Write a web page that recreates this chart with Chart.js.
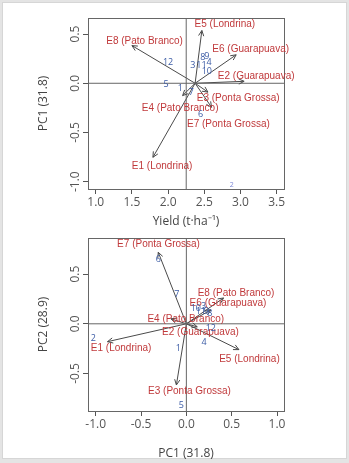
<!DOCTYPE html>
<html>
<head>
<meta charset="utf-8">
<script src="https://cdn.jsdelivr.net/npm/chart.js@4.4.1/dist/chart.umd.min.js"></script>
<style>
  html, body { margin: 0; padding: 0; background: #e4e4e4; width: 349px; height: 463px; overflow: hidden; }
  #frame { position: absolute; left: 2px; top: 2px; width: 345px; height: 457px; background: #fff; border: 1px solid #d6d6d6; box-sizing: border-box; }
  canvas { position: absolute; left: 0; }
  #top { top: 0; }
  #bottom { top: 230px; }
</style>
</head>
<body>
<div id="frame"></div>
<canvas id="top" width="349" height="230" style="width:349px;height:230px"></canvas>
<canvas id="bottom" width="349" height="233" style="width:349px;height:233px"></canvas>
<script>
const envNames = ["E1 (Londrina)", "E2 (Guarapuava)", "E3 (Ponta Grossa)", "E4 (Pato Branco)",
  "E5 (Londrina)", "E6 (Guarapuava)", "E7 (Ponta Grossa)", "E8 (Pato Branco)"]
const genotypes = ["1", "2", "3", "4", "5", "6", "7", "8", "9", "10", "11", "12"]

// top panel: yield vs PC1
const yieldMean = 2.25
const yieldOrigin = [2.373, 0]
const yieldEnvX = [1.79, 3.05, 2.55, 2.2, 2.466, 2.94, 2.6, 1.5]
const yieldEnvY = [-0.752, 0.02, -0.09, -0.125, 0.536, 0.289, -0.244, 0.383]
const yieldEnvLabelX = [1.917, 3.217, 2.968, 2.166, 2.784, 3.141, 2.833, 1.675]
const yieldEnvLabelY = [-0.839, 0.068, -0.152, -0.25, 0.597, 0.342, -0.413, 0.424]
const yieldGenX = [2.17, 2.88, 2.34, 2.565, 1.97, 2.45, 2.32, 2.48, 2.535, 2.535, 2.46, 2.0]
const yieldGenY = [-0.05, -1.03, 0.18, 0.21, -0.013, -0.318, -0.09, 0.264, 0.27, 0.125, 0.18, 0.213]
const yieldTicksX = [1.0, 1.5, 2.0, 2.5, 3.0, 3.5]
const yieldTicksY = [-1.0, -0.5, 0.0, 0.5]

// bottom panel: PC1 vs PC2
const pcOrigin = [0, 0]
const pcEnvX = [-0.87, 0.12, -0.11, -0.17, 0.58, 0.27, -0.31, 0.41]
const pcEnvY = [-0.18, -0.03, -0.616, 0.05, -0.26, 0.14, 0.72, 0.26]
const pcEnvLabelX = [-0.72, 0.155, 0.034, -0.007, 0.696, 0.459, -0.307, 0.548]
const pcEnvLabelY = [-0.245, -0.088, -0.684, 0.047, -0.354, 0.202, 0.798, 0.31]
const pcGenX = [-0.09, -1.026, 0.19, 0.195, -0.055, -0.31, -0.106, 0.26, 0.22, 0.104, 0.16, 0.27]
const pcGenY = [-0.245, -0.15, 0.17, -0.19, -0.818, 0.646, 0.3, 0.1, 0.12, 0.152, 0.12, -0.044]
const pcTicksX = [-1.0, -0.5, 0.0, 0.5, 1.0]
const pcTicksY = [-0.5, 0.0, 0.5]

Chart.defaults.font.family = "'Open Sans', sans-serif"

const ARROW = "#4a4a4a"
const RED = "#c0393b"
const BLUE = "#3b5ba5"
const fmt = (v) => (Math.abs(v) < 1e-9 ? 0 : v).toFixed(1)

const biplotPlugin = {
  id: "biplot",
  afterDatasetsDraw(chart, args, opts) {
    const { ctx, chartArea, scales } = chart
    ctx.save()
    ctx.strokeStyle = "#666"
    ctx.lineWidth = 1
    ctx.strokeRect(chartArea.left + 0.5, chartArea.top + 0.5, chartArea.width, chartArea.height)

    // arrow heads
    chart.data.datasets.forEach((ds, i) => {
      if (ds.kind !== "arrow") return
      const pts = chart.getDatasetMeta(i).data
      const a = pts[0], b = pts[1]
      const ang = Math.atan2(b.y - a.y, b.x - a.x)
      ctx.strokeStyle = ARROW
      ctx.beginPath()
      for (const s of [-1, 1]) {
        ctx.moveTo(b.x, b.y)
        ctx.lineTo(b.x - 6 * Math.cos(ang + s * 0.45), b.y - 6 * Math.sin(ang + s * 0.45))
      }
      ctx.stroke()
    })

    // environment labels
    ctx.textAlign = "center"
    ctx.textBaseline = "middle"
    ctx.font = "10px 'Liberation Sans', Arial, sans-serif"
    ctx.fillStyle = RED
    opts.labels.forEach((name, i) => {
      ctx.fillText(name, scales.x.getPixelForValue(opts.labelX[i]), scales.y.getPixelForValue(opts.labelY[i]))
    })

    // genotype numbers
    const gi = chart.data.datasets.findIndex((ds) => ds.kind === "genotype")
    chart.getDatasetMeta(gi).data.forEach((pt, i) => {
      const small = opts.smallIndex === i
      ctx.font = (small ? "7px" : "9px") + " 'Open Sans', sans-serif"
      ctx.fillStyle = small ? "#7a86d6" : BLUE
      ctx.fillText(genotypes[i], pt.x, pt.y)
    })
    ctx.restore()
  }
}

function makeBiplot(id, p) {
  const datasets = [
    { kind: "ref", data: [{ x: p.xMin, y: 0 }, { x: p.xMax, y: 0 }], showLine: true, borderColor: "#666", borderWidth: 1, pointRadius: 0 },
    { kind: "ref", data: [{ x: p.vLine, y: p.yMin }, { x: p.vLine, y: p.yMax }], showLine: true, borderColor: "#666", borderWidth: 1, pointRadius: 0 }
  ]
  p.envX.forEach((x, i) => {
    datasets.push({
      kind: "arrow",
      data: [{ x: p.origin[0], y: p.origin[1] }, { x: x, y: p.envY[i] }],
      showLine: true, borderColor: ARROW, borderWidth: 1, pointRadius: 0
    })
  })
  datasets.push({
    kind: "genotype",
    data: p.genX.map((x, i) => ({ x: x, y: p.genY[i] })),
    pointRadius: 0
  })

  const tickFont = { size: 12 }
  return new Chart(document.getElementById(id), {
    type: "scatter",
    data: { datasets },
    options: {
      responsive: false,
      animation: false,
      layout: { padding: { top: p.padTop, right: 65, left: 0, bottom: 0 } },
      plugins: {
        legend: { display: false },
        tooltip: { enabled: false },
        biplot: { labels: envNames, labelX: p.labelX, labelY: p.labelY, smallIndex: p.smallIndex }
      },
      scales: {
        x: {
          type: "linear",
          min: p.xMin, max: p.xMax,
          afterFit: (s) => { s.height = p.xAxisHeight },
          afterBuildTicks: (s) => { s.ticks = p.ticksX.map((v) => ({ value: v })) },
          border: { display: false },
          grid: { drawOnChartArea: false, tickLength: 5, color: "#555" },
          ticks: { color: "#555", font: tickFont, padding: 1, maxRotation: 0, callback: fmt },
          title: { display: true, text: p.xTitle, color: "#444", font: { size: 12 }, padding: { top: 0, bottom: p.xTitlePad } }
        },
        y: {
          type: "linear",
          min: p.yMin, max: p.yMax,
          afterFit: (s) => { s.width = 88 },
          afterBuildTicks: (s) => { s.ticks = p.ticksY.map((v) => ({ value: v })) },
          border: { display: false },
          grid: { drawOnChartArea: false, tickLength: 5, color: "#555" },
          ticks: { color: "#555", font: tickFont, padding: -3, minRotation: 90, maxRotation: 90, crossAlign: "center", callback: fmt },
          title: { display: true, text: p.yTitle, color: "#444", font: { size: 12 }, padding: { top: 36, bottom: 0 } }
        }
      }
    },
    plugins: [biplotPlugin]
  })
}

makeBiplot("top", {
  xMin: 0.893, xMax: 3.601, yMin: -1.074, yMax: 0.663,
  vLine: yieldMean, origin: yieldOrigin,
  envX: yieldEnvX, envY: yieldEnvY, labelX: yieldEnvLabelX, labelY: yieldEnvLabelY,
  genX: yieldGenX, genY: yieldGenY, smallIndex: 1,
  ticksX: yieldTicksX, ticksY: yieldTicksY,
  xTitle: "Yield (t·ha⁻¹)", yTitle: "PC1 (31.8)",
  padTop: 18, xAxisHeight: 41, xTitlePad: 1
})

makeBiplot("bottom", {
  xMin: -1.085, xMax: 1.077, yMin: -0.878, yMax: 0.864,
  vLine: 0, origin: pcOrigin,
  envX: pcEnvX, envY: pcEnvY, labelX: pcEnvLabelX, labelY: pcEnvLabelY,
  genX: pcGenX, genY: pcGenY, smallIndex: -1,
  ticksX: pcTicksX, ticksY: pcTicksY,
  xTitle: "PC1 (31.8)", yTitle: "PC2 (28.9)",
  padTop: 8, xAxisHeight: 52, xTitlePad: 2
})
</script>
</body>
</html>
